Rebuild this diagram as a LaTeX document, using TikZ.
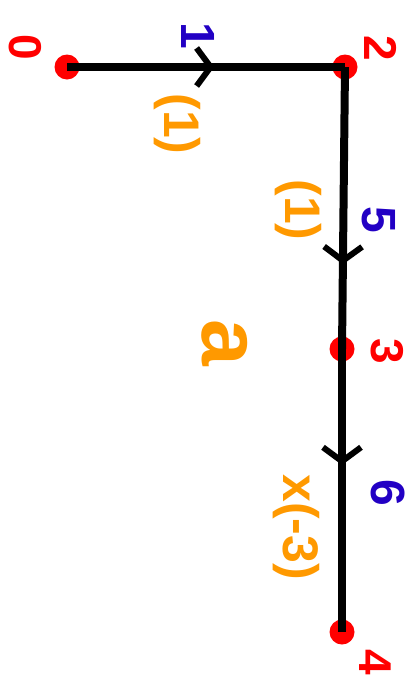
\documentclass[tikz,border=0pt]{standalone}
\usepackage{fontspec}
\setmainfont{Liberation Sans}
\usetikzlibrary{arrows.meta,decorations.markings}
\definecolor{pred}{HTML}{FF0000}
\definecolor{pblue}{HTML}{2200C4}
\definecolor{porange}{HTML}{FF9900}
\tikzset{
  dot/.style={circle,fill=pred,inner sep=0pt,minimum size=25pt},
  edge/.style={line width=8pt,black},
  arrowat/.style={postaction={decorate},decoration={markings,
    mark=at position #1 with {\arrow[line width=6pt,line cap=round]{Straight Barb[length=14pt,width=38pt]}}}},
  vlab/.style={text=pred,rotate=-90,font=\bfseries\fontsize{46}{46}\selectfont,inner sep=0pt},
  elab/.style={text=pblue,rotate=-90,font=\bfseries\fontsize{48}{48}\selectfont,inner sep=0pt},
  wlab/.style={text=porange,rotate=-90,font=\bfseries\fontsize{50}{50}\selectfont,inner sep=0pt},
}
\begin{document}
\begin{tikzpicture}[x=1pt,y=-1pt]
\useasboundingbox (0,0) rectangle (418,683);
\node[dot] (n0) at (67,67) {};
\node[dot] (n2) at (345,67) {};
\node[dot] (n3) at (342,349) {};
\node[dot] (n4) at (342,632) {};
\draw[edge,arrowat=0.53] (n0.center) -- (n2.center);
\draw[edge,arrowat=0.70] (n2.center) -- (n3.center);
\draw[edge,arrowat=0.41] (n3.center) -- (n4.center);
\node[vlab] (l0) at (25,47) {0};
\node[vlab] (l2) at (381,48) {2};
\node[vlab] (l3) at (387,351) {3};
\node[vlab] (l4) at (375,662) {4};
\node[elab] (e1) at (198,36) {1};
\node[elab] (e5) at (379,220) {5};
\node[elab] (e6) at (388,493) {6};
\node[wlab] (w1) at (177,124) {(1)};
\node[wlab] (w5) at (298,210) {(1)};
\node[wlab] (w6) at (296,527) {x(-3)};
\node[text=porange,rotate=-90,font=\bfseries\fontsize{84}{84}\selectfont,inner sep=0pt] (fa) at (225,343) {a};
\end{tikzpicture}
\end{document}
